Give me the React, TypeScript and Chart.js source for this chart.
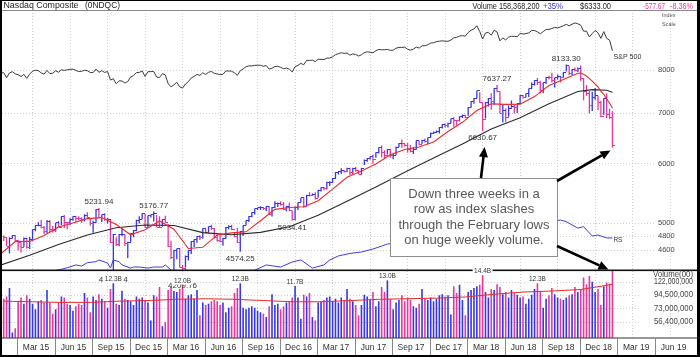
import React, { useEffect, useRef } from 'react';
import { Chart, registerables } from 'chart.js';

Chart.register(...registerables);

// ===== DATA: weekly bars, week 0 = Fri 5 Dec 2014 ... week 211 = Fri 21 Dec 2018 =====
const PREV_CLOSE = 4792;

const CLOSE = [
  // Dec 2014
  4780, 4653, 4765, 4807,
  // 2015
  4727, 4704, 4634, 4757, 4635, 4744, 4893, 4955, 4964, 4927,
  4871, 5026, 4891, 4886, 4996, 4932, 5092, 5005, 5003, 5048,
  5090, 5070, 5069, 5052, 5117, 5080, 4992, 4997, 5210, 5089,
  5128, 5044, 5048, 4706, 4828, 4683, 4822, 4827, 4687, 4707,
  4830, 4887, 5032, 5054, 5147, 4927, 5105, 5127, 5142, 4933,
  4923, 5048, 5007,
  // 2016
  4644, 4488, 4591, 4614, 4363, 4338, 4504, 4590, 4717, 4748,
  4796, 4774, 4915, 4851, 4938, 4906, 4775, 4737, 4718, 4770,
  4933, 4943, 4895, 4800, 4708, 4863, 4957, 5029, 5100, 5162,
  5221, 5233, 5238, 5219, 5250, 5126, 5245, 5306, 5312, 5292,
  5214, 5257, 5190, 5046, 5237, 5321, 5398, 5255, 5444, 5437,
  5462, 5383,
  // 2017
  5521, 5574, 5555, 5660, 5667, 5734, 5838, 5845, 5870, 5861,
  5901, 5828, 5912, 5878, 5805, 5910, 6047, 6100, 6121, 6083,
  6210, 6305, 6208, 6151, 6265, 6140, 6153, 6312, 6387, 6374,
  6351, 6256, 6216, 6265, 6435, 6360, 6448, 6426, 6496, 6590,
  6606, 6629, 6701, 6764, 6751, 6783, 6890, 6848, 6840, 6937,
  6960, 6903,
  // 2018
  7136, 7261, 7336, 7505, 7241, 6874, 7239, 7337, 7257, 7560,
  7481, 6993, 7063, 6915, 7107, 7146, 7120, 7209, 7403, 7354,
  7434, 7554, 7646, 7746, 7692, 7510, 7688, 7826, 7820, 7737,
  7812, 7839, 7816, 7945, 8110, 7903, 8010, 7987, 8046, 7788,
  7497, 7449, 7167, 7357, 7407, 7248, 6939, 7331, 6969, 6910.67,
  6333.0,
];

const HIGH = [
  4810, 4780, 4780, 4814,
  4814, 4744, 4707, 4778, 4766, 4787, 4900, 4956, 5009, 5042,
  4951, 5042, 5044, 4949, 4999, 5028, 5100, 5120, 5015, 5070,
  5101, 5110, 5100, 5085, 5133, 5164, 5075, 5030, 5214, 5231.94,
  5130, 5150, 5073, 5060, 4830, 4780, 4830, 4917, 4815, 4715,
  4840, 4890, 5045, 5100, 5150, 5140, 5110, 5130, 5176.77, 5120,
  5100, 5050, 5110,
  4980, 4730, 4600, 4620, 4620, 4390, 4520, 4601, 4720, 4750,
  4800, 4810, 4915, 4905, 4945, 4970, 4920, 4825, 4815, 4775,
  4935, 4960, 4970, 4860, 4920, 4870, 4960, 5035, 5105, 5163,
  5225, 5238, 5260, 5250, 5255, 5260, 5250, 5342, 5320, 5343,
  5330, 5270, 5320, 5190, 5255, 5325, 5400, 5400, 5450, 5490,
  5470, 5490,
  5536, 5575, 5580, 5670, 5680, 5740, 5840, 5850, 5912, 5880,
  5920, 5920, 5920, 5935, 5880, 5920, 6075, 6101, 6130, 6170,
  6211, 6306, 6341, 6250, 6275, 6280, 6180, 6320, 6390, 6460,
  6380, 6390, 6350, 6310, 6440, 6440, 6455, 6480, 6500, 6600,
  6620, 6640, 6710, 6770, 6790, 6800, 6890, 6915, 6850, 6940,
  6975, 6970,
  7140, 7265, 7340, 7506, 7470, 7230, 7245, 7340, 7450, 7570,
  7637.27, 7490, 7200, 7110, 7170, 7285, 7190, 7210, 7410, 7410,
  7440, 7560, 7700, 7760, 7806, 7740, 7700, 7830, 7860, 7933,
  7820, 7890, 7840, 7950, 8133.3, 8100, 8020, 8060, 8060, 8110,
  7800, 7640, 7500, 7480, 7570, 7390, 7280, 7340, 7440, 7100,
  7050,
];

const LOW = [
  4727, 4652, 4547, 4765,
  4721, 4592, 4563, 4640, 4620, 4612, 4725, 4870, 4946, 4917,
  4829, 4845, 4862, 4853, 4865, 4927, 4960, 4920, 4900, 4960,
  5030, 5015, 5040, 4999, 5020, 5070, 4952, 4850, 5000, 5080,
  5010, 5030, 4990, 4706, 4292.14, 4653, 4650, 4800, 4655, 4487,
  4715, 4780, 4870, 4990, 5055, 4925, 4930, 5080, 5020, 4930,
  4920, 4940, 5000,
  4640, 4471, 4313, 4470, 4355, 4209.76, 4356, 4450, 4540, 4640,
  4700, 4740, 4760, 4840, 4840, 4890, 4765, 4715, 4710, 4657,
  4760, 4900, 4890, 4780, 4700, 4574.25, 4800, 4960, 5010, 5085,
  5130, 5200, 5200, 5200, 5185, 5125, 5095, 5230, 5250, 5270,
  5200, 5180, 5180, 5034.41, 5040, 5200, 5330, 5235, 5260, 5420,
  5430, 5370,
  5400, 5505, 5525, 5540, 5600, 5660, 5740, 5800, 5810, 5830,
  5840, 5790, 5810, 5850, 5800, 5790, 5970, 6030, 6075, 5995,
  6105, 6185, 6110, 6090, 6170, 6105, 6080, 6160, 6310, 6300,
  6320, 6200, 6210, 6180, 6260, 6350, 6370, 6400, 6370, 6500,
  6570, 6590, 6580, 6680, 6700, 6700, 6790, 6720, 6750, 6830,
  6900, 6900,
  6950, 7120, 7210, 7340, 7230, 6630.67, 6890, 7150, 7080, 7190,
  7470, 6990, 6805, 6810, 6930, 7120, 7000, 7010, 7200, 7330,
  7350, 7360, 7560, 7630, 7640, 7440, 7450, 7670, 7770, 7700,
  7580, 7770, 7700, 7810, 7960, 7870, 7880, 7960, 7950, 7740,
  7290, 7390, 7000, 7050, 7300, 7070, 6920, 6970, 6900, 6880,
  6304,
];

// weekly volume in millions of "hundreds of shares" (Volume(00))
const VOLUME = [
  88, 92, 108, 46, 50, 84, 90, 80, 94, 88,
  80, 72, 84, 86, 82, 104, 82, 66, 72, 82,
  92, 90, 80, 78, 70, 76, 80, 78, 98, 90,
  68, 92, 86, 96, 88, 84, 74, 106, 123, 80,
  78, 102, 88, 86, 84, 78, 92, 88, 90, 86,
  82, 58, 94, 92, 110, 52, 56, 104, 110, 102,
  100, 106, 120, 88, 94, 96, 88, 104, 64, 82,
  78, 80, 84, 86, 84, 78, 82, 68, 74, 76,
  98, 108, 123, 74, 72, 74, 76, 74, 70, 68,
  66, 62, 76, 96, 78, 80, 72, 76, 82, 84,
  90, 117, 90, 60, 95, 92, 98, 62, 58, 82,
  84, 86, 90, 92, 84, 88, 82, 90, 86, 106,
  88, 84, 78, 64, 78, 95, 92, 86, 100, 76,
  84, 110, 100, 130, 88, 72, 82, 86, 94, 84,
  90, 86, 76, 74, 80, 106, 88, 86, 90, 84,
  88, 94, 96, 92, 94, 65, 112, 98, 115, 86,
  64, 100, 104, 108, 112, 115, 144, 100, 90, 106,
  104, 116, 110, 96, 100, 90, 104, 98, 95, 90,
  92, 80, 88, 95, 106, 123, 100, 74, 88, 94,
  108, 96, 90, 88, 86, 90, 94, 96, 110, 100,
  106, 132, 116, 136, 122, 100, 106, 78, 112, 120,
  118, 158.3682,
];

// [week, value]
const VOLUME_MA = [
  [0, 84], [10, 83], [20, 82], [30, 82], [40, 84], [50, 85], [60, 87], [70, 88],
  [80, 87], [90, 85], [100, 83], [110, 83], [120, 85], [130, 87], [140, 88],
  [150, 89], [160, 91], [170, 96], [180, 100], [190, 102], [200, 105], [211, 116],
];

const SP500_PREV = 2068;
const SP500 = [
  2075, 2003, 2071, 2089, 2058, 2045, 2019, 2051, 1995, 2055,
  2097, 2110, 2105, 2071, 2053, 2108, 2061, 2067, 2102, 2081,
  2117, 2108, 2116, 2123, 2126, 2107, 2092, 2094, 2110, 2102,
  2077, 2077, 2127, 2080, 2104, 2078, 2092, 1971, 1989, 1921,
  1961, 1958, 1931, 1951, 2015, 2033, 2075, 2079, 2099, 2023,
  2089, 2090, 2092, 2012, 2006, 2061, 2044, 1922, 1880, 1907,
  1940, 1880, 1865, 1918, 1948, 1999, 2022, 2050, 2036, 2073,
  2048, 2081, 2092, 2065, 2057, 2047, 2052, 2099, 2099, 2096,
  2071, 2037, 2103, 2130, 2162, 2175, 2174, 2183, 2184, 2184,
  2169, 2180, 2128, 2139, 2165, 2168, 2153, 2133, 2141, 2126,
  2085, 2164, 2182, 2213, 2192, 2260, 2258, 2264, 2239, 2277,
  2275, 2271, 2295, 2297, 2316, 2351, 2367, 2383, 2372, 2378,
  2344, 2363, 2355, 2329, 2349, 2384, 2399, 2391, 2382, 2416,
  2439, 2432, 2433, 2438, 2423, 2425, 2459, 2473, 2472, 2477,
  2441, 2426, 2444, 2477, 2461, 2500, 2502, 2519, 2549, 2553,
  2575, 2581, 2588, 2582, 2579, 2602, 2642, 2652, 2675, 2683,
  2674, 2743, 2786, 2810, 2873, 2762, 2620, 2732, 2747, 2691,
  2786, 2752, 2588, 2641, 2604, 2656, 2670, 2670, 2663, 2728,
  2713, 2721, 2735, 2779, 2780, 2755, 2718, 2760, 2801, 2802,
  2819, 2840, 2833, 2850, 2875, 2902, 2872, 2905, 2930, 2914,
  2886, 2767, 2768, 2659, 2723, 2781, 2736, 2633, 2760, 2633,
  2600, 2417,
];

// relative strength line [week, value]
const RS_LINE = [
  [0, 2.25], [10, 2.3], [16, 2.33], [20, 2.35], [22, 2.364], [25, 2.388], [27, 2.379],
  [29, 2.408], [32, 2.417], [33, 2.432], [36, 2.405], [37, 2.361], [38, 2.432], [40, 2.417],
  [41, 2.388], [44, 2.361], [45, 2.37], [47, 2.37], [50, 2.361], [52, 2.37], [55, 2.37],
  [56, 2.388], [58, 2.344], [60, 2.3], [62, 2.27], [63, 2.35], [65, 2.3], [72, 2.31],
  [78, 2.3], [84, 2.32], [86, 2.33], [88, 2.353], [91, 2.388], [96, 2.37], [100, 2.414],
  [103, 2.432], [107, 2.361], [111, 2.388], [113, 2.432], [116, 2.467], [120, 2.489],
  [124, 2.502], [128, 2.528], [131, 2.554], [133, 2.572], [140, 2.59], [150, 2.62],
  [160, 2.65], [165, 2.68], [170, 2.7], [180, 2.73], [187, 2.76], [193, 2.782],
  [195, 2.768], [197, 2.739], [199, 2.712], [201, 2.724], [204, 2.642], [206, 2.651],
  [209, 2.625], [211, 2.625],
];

// 10-week moving average [week, value]
const MA10 = [
  [-1, 4546], [4, 4719], [9, 4721], [14, 4808], [19, 4934], [24, 4997], [29, 5063],
  [34, 5080], [39, 4973], [44, 4818], [49, 4892], [54, 5028], [59, 4901], [64, 4619],
  [69, 4636], [74, 4816], [79, 4847], [84, 4862], [89, 5031], [94, 5210], [99, 5241],
  [104, 5252], [109, 5350], [114, 5544], [119, 5751], [124, 5865], [129, 5989],
  [134, 6163], [139, 6265], [144, 6311], [149, 6410], [154, 6619], [159, 6810],
  [164, 7062], [169, 7209], [174, 7196], [179, 7200], [184, 7372], [189, 7627],
  [194, 7769], [199, 7921], [200, 7926], [201, 7894], [202, 7855], [203, 7790],
  [204, 7731], [205, 7661], [206, 7596], [207, 7489], [208, 7423], [209, 7315],
  [210, 7228], [211, 7111],
];

// 40-week moving average [week, value]
const MA40 = [
  [-1, 4389], [9, 4524], [19, 4675], [29, 4816], [39, 4923], [49, 4966], [59, 4957],
  [69, 4850], [79, 4819], [89, 4854], [99, 4939], [109, 5117], [119, 5343], [129, 5583],
  [139, 5839], [149, 6104], [159, 6369], [169, 6674], [179, 6907], [189, 7212],
  [199, 7489], [204, 7530], [209, 7516], [211, 7471],
];

const X_LABELS = [
  'Mar 15', 'Jun 15', 'Sep 15', 'Dec 15', 'Mar 16', 'Jun 16', 'Sep 16', 'Dec 16', 'Mar 17',
  'Jun 17', 'Sep 17', 'Dec 17', 'Mar 18', 'Jun 18', 'Sep 18', 'Dec 18', 'Mar 19', 'Jun 19',
];
const PRICE_TICKS = [8000, 7000, 6000, 5000, 4800, 4600];
const VOLUME_TICKS = [122, 94.5, 73, 56.4];
const HIGH_NOTES = [33, 52, 171, 195];
const LOW_NOTES = [38, 62, 82, 100, 166];
const VOLUME_NOTES = [38, 62, 82, 101, 133, 166, 185];
const NOTE_LINES = [
  'Down three weeks in a',
  'row as index slashes',
  'through the February lows',
  'on huge weekly volume.',
];
const TITLE = 'Nasdaq Composite';
const SYMBOL = '(0NDQC)';
const VOLUME_CHANGE = '+35%';

// ===== styling / layout =====
const UP = '#3636e6';
const DOWN = '#e4389c';
const RED = '#e82a2a';
const FONT_FAMILY = "'Liberation Sans', Arial, Helvetica, sans-serif";
const f = (px: number) => `${px}px ${FONT_FAMILY}`;
const X_MIN = -0.59;
const X_MAX = 240.31;
const SEP0 = 4.71;
const GRID0 = 9.9;
const QUARTER = 13;
const PANEL_SPLIT = 270.5;

const IS_UP = CLOSE.map((c, i) => c >= (i ? CLOSE[i - 1] : PREV_CLOSE));
const BAR_COLORS = IS_UP.map((u) => (u ? UP : DOWN));

const fmtInt = (v: number) => Math.round(v).toLocaleString('en-US');

function arrow(ctx: any, x1: number, y1: number, x2: number, y2: number) {
  const ang = Math.atan2(y2 - y1, x2 - x1);
  const hl = 10;
  const hw = 4.5;
  const bx = x2 - hl * Math.cos(ang);
  const by = y2 - hl * Math.sin(ang);
  ctx.strokeStyle = '#000';
  ctx.lineWidth = 2.6;
  ctx.lineCap = 'butt';
  ctx.beginPath();
  ctx.moveTo(x1, y1);
  ctx.lineTo(bx, by);
  ctx.stroke();
  ctx.fillStyle = '#000';
  ctx.beginPath();
  ctx.moveTo(x2, y2);
  ctx.lineTo(bx + hw * Math.sin(ang), by - hw * Math.cos(ang));
  ctx.lineTo(bx - hw * Math.sin(ang), by + hw * Math.cos(ang));
  ctx.closePath();
  ctx.fill();
}

const decor = {
  id: 'decor',
  beforeDraw(chart: any) {
    const { ctx } = chart;
    ctx.save();
    ctx.fillStyle = '#fff';
    ctx.fillRect(0, 0, chart.width, chart.height);
    ctx.restore();
  },
  beforeDatasetsDraw(chart: any) {
    const { ctx, chartArea: a, scales } = chart;
    const xs = scales.x;
    ctx.save();
    ctx.strokeStyle = '#cfcfcf';
    ctx.lineWidth = 1;
    ctx.setLineDash([1, 2]);
    for (let k = 0; k < 18; k++) {
      const px = Math.round(xs.getPixelForValue(GRID0 + QUARTER * k)) + 0.5;
      if (px > a.right) break;
      ctx.beginPath();
      ctx.moveTo(px, a.top);
      ctx.lineTo(px, a.bottom);
      ctx.stroke();
    }
    for (const v of PRICE_TICKS) {
      const py = Math.round(scales.yP.getPixelForValue(v)) + 0.5;
      ctx.beginPath();
      ctx.moveTo(a.left, py);
      ctx.lineTo(655, py);
      ctx.stroke();
    }
    for (const v of VOLUME_TICKS) {
      const py = Math.round(scales.yV.getPixelForValue(v)) + 0.5;
      ctx.beginPath();
      ctx.moveTo(a.left, py);
      ctx.lineTo(640, py);
      ctx.stroke();
    }
    ctx.restore();
    ctx.imageSmoothingEnabled = false;
  },
  afterDatasetsDraw(chart: any) {
    chart.ctx.imageSmoothingEnabled = true;
  },
  afterDraw(chart: any) {
    const { ctx, scales } = chart;
    const xs = scales.x;
    const yP = scales.yP;
    const yV = scales.yV;
    const X = (i: number) => xs.getPixelForValue(i);
    ctx.save();
    ctx.textBaseline = 'middle';

    // panel separators
    ctx.fillStyle = '#8a8a8a';
    ctx.fillRect(0, 10, 700, 1);
    ctx.fillStyle = '#111';
    ctx.fillRect(0, PANEL_SPLIT - 1, 697, 1.6);
    ctx.fillStyle = '#333';
    ctx.fillRect(0, 337.5, 697, 1);

    // x axis cells
    ctx.fillStyle = '#888';
    for (let k = 0; k < X_LABELS.length; k++) {
      const sx = Math.round(X(SEP0 + QUARTER * k));
      ctx.fillRect(sx, 338, 1, 17);
    }
    ctx.fillStyle = '#333';
    ctx.font = f(8.5);
    ctx.textAlign = 'center';
    X_LABELS.forEach((t, k) => {
      const cx = (X(SEP0 + QUARTER * k) + X(SEP0 + QUARTER * (k + 1))) / 2;
      ctx.fillText(t, cx, 347.5);
    });

    // right price axis
    ctx.fillStyle = '#444';
    ctx.font = f(7.5);
    ctx.textAlign = 'left';
    for (const v of PRICE_TICKS) ctx.fillText(String(v), 658, yP.getPixelForValue(v));

    // right volume axis
    ctx.font = f(9);
    ctx.textAlign = 'right';
    for (const v of VOLUME_TICKS) ctx.fillText(fmtInt(v * 1e6), 693, yV.getPixelForValue(v), 39);
    ctx.textAlign = 'center';
    ctx.fillText('Volume(00)', 673, 274.5, 40);

    // Index Scale
    ctx.font = f(5.5);
    ctx.fillStyle = '#555';
    ctx.textAlign = 'left';
    ctx.fillText('Index', 662, 15.5);
    ctx.fillText('Scale', 662, 24);

    // header
    const last = CLOSE.length - 1;
    const chg = CLOSE[last] - CLOSE[last - 1];
    const pct = (CLOSE[last] / CLOSE[last - 1] - 1) * 100;
    ctx.font = f(9);
    ctx.fillStyle = '#222';
    ctx.textAlign = 'left';
    ctx.fillText(TITLE, 3.5, 6, 75);
    ctx.fillText(SYMBOL, 85, 6, 35);
    ctx.fillText('Volume ' + fmtInt(VOLUME[last] * 1e6), 472.5, 6.5, 67);
    ctx.fillStyle = UP;
    ctx.fillText(VOLUME_CHANGE, 543, 6.5, 20);
    ctx.fillStyle = '#222';
    ctx.fillText('$' + CLOSE[last].toFixed(2), 580, 6.5, 31);
    ctx.fillStyle = DOWN;
    ctx.fillText(chg.toFixed(2), 643, 6.5, 22);
    ctx.fillText(pct.toFixed(2) + '%', 670, 6.5, 23);

    // price notes
    ctx.fillStyle = '#333';
    ctx.font = f(8);
    ctx.textAlign = 'center';
    for (const i of HIGH_NOTES) ctx.fillText(HIGH[i].toFixed(2), X(i), yP.getPixelForValue(HIGH[i]) - 6);
    for (const i of LOW_NOTES) ctx.fillText(LOW[i].toFixed(2), X(i), yP.getPixelForValue(LOW[i]) + 7);

    // volume notes
    ctx.font = f(7);
    for (const i of VOLUME_NOTES) {
      const t = (VOLUME[i] / 10).toFixed(1) + 'B';
      const px = X(i);
      const py = yV.getPixelForValue(VOLUME[i]) - 2;
      const w = Math.min(ctx.measureText(t).width, 17);
      ctx.fillStyle = '#fff';
      ctx.fillRect(px - w / 2 - 1.5, py - 4, w + 3, 8);
      ctx.fillStyle = '#333';
      ctx.fillText(t, px, py, 17);
    }

    // series labels
    ctx.textAlign = 'left';
    ctx.fillStyle = '#333';
    ctx.font = f(7.5);
    ctx.fillText('S&P 500', X(last) + 1, scales.yS.getPixelForValue(SP500[last]) + 6, 28);
    ctx.font = f(6.5);
    ctx.fillText('RS', X(last) + 1, scales.yR.getPixelForValue(RS_LINE[RS_LINE.length - 1][1]) + 2, 9);

    // annotation box
    ctx.fillStyle = '#fff';
    ctx.fillRect(390, 178, 167, 78);
    ctx.strokeStyle = '#8f8f8f';
    ctx.lineWidth = 1;
    ctx.strokeRect(390.5, 178.5, 167, 78);
    ctx.fillStyle = '#585858';
    ctx.font = f(13);
    ctx.textAlign = 'center';
    NOTE_LINES.forEach((t, k) => ctx.fillText(t, 474, 194 + k * 15.6));

    // arrows
    arrow(ctx, 481, 178, X(166) + 2, yP.getPixelForValue(LOW[166]) + 16);
    arrow(ctx, 557, 181, X(last) - 2, yP.getPixelForValue(LOW[last]) + 3);
    arrow(ctx, 557, 246, X(last) - 4, PANEL_SPLIT - 1);

    // frame
    ctx.fillStyle = '#000';
    ctx.fillRect(0, 0, 2, 357);
    ctx.fillRect(697, 0, 3, 357);
    ctx.fillRect(0, 0, 700, 1);
    ctx.fillRect(0, 355, 700, 2);
    ctx.restore();
  },
};

export default function App() {
  const ref = useRef<HTMLCanvasElement | null>(null);
  useEffect(() => {
    document.body.style.margin = '0';
    const canvas = ref.current;
    if (!canvas) return;
    const mkTick = (color: string) => {
      const c = document.createElement('canvas');
      c.width = 6;
      c.height = 1;
      const g = c.getContext('2d') as CanvasRenderingContext2D;
      g.fillStyle = color;
      g.fillRect(3, 0, 3, 1);
      return c;
    };
    const upTick = mkTick(UP);
    const downTick = mkTick(DOWN);
    const priceClip = { left: 0, top: 0, right: 0, bottom: -(338 - PANEL_SPLIT) };
    const volClip = { left: 0, top: -(PANEL_SPLIT - 10), right: 0, bottom: 0 };
    const fix = (min: number, max: number) => (s: any) => {
      s.min = min;
      s.max = max;
    };

    const chart = new Chart(canvas, {
      type: 'bar',
      data: {
        datasets: [
          {
            type: 'line', label: 'Volume MA', yAxisID: 'yV',
            data: VOLUME_MA.map(([x, y]) => ({ x, y })),
            borderColor: RED, borderWidth: 1, pointRadius: 0, clip: volClip, order: 0,
          },
          {
            type: 'line', label: '10-week MA', yAxisID: 'yP',
            data: MA10.map(([x, y]) => ({ x, y })),
            borderColor: RED, borderWidth: 1.1, pointRadius: 0, clip: priceClip, order: 1,
          },
          {
            type: 'line', label: '40-week MA', yAxisID: 'yP',
            data: MA40.map(([x, y]) => ({ x, y })),
            borderColor: '#2a2a2a', borderWidth: 1.1, pointRadius: 0, clip: priceClip, order: 1,
          },
          {
            type: 'line', label: 'Close', yAxisID: 'yP',
            data: CLOSE.map((y, x) => ({ x, y })),
            showLine: false, pointRadius: 1, pointHoverRadius: 1,
            pointStyle: (c: any) => (IS_UP[c.dataIndex] ? upTick : downTick),
            clip: priceClip, order: 2,
          },
          {
            type: 'bar', label: 'Range', yAxisID: 'yP',
            data: CLOSE.map((_, i) => ({ x: i, y: [LOW[i], HIGH[i]] })),
            backgroundColor: BAR_COLORS, barThickness: 1.3, grouped: false, inflateAmount: 0,
            clip: priceClip, order: 2,
          },
          {
            type: 'bar', label: 'Volume', yAxisID: 'yV',
            data: VOLUME.map((v, i) => ({ x: i, y: [30, v] })),
            backgroundColor: BAR_COLORS, barThickness: 1.6, grouped: false, inflateAmount: 0,
            clip: volClip, order: 3,
          },
          {
            type: 'line', label: 'S&P 500', yAxisID: 'yS',
            data: [{ x: -1, y: SP500_PREV }, ...SP500.map((y, x) => ({ x, y }))],
            borderColor: '#3c3c3c', borderWidth: 1, pointRadius: 0, order: 5,
          },
          {
            type: 'line', label: 'RS', yAxisID: 'yR',
            data: RS_LINE.map(([x, y]) => ({ x, y })),
            borderColor: '#3c3cec', borderWidth: 1, pointRadius: 0, clip: priceClip, order: 5,
          },
        ] as any,
      },
      options: {
        responsive: false,
        animation: false,
        devicePixelRatio: 1,
        events: [],
        layout: { padding: { left: 2, right: 3, top: 10, bottom: 19 } },
        plugins: { legend: { display: false }, tooltip: { enabled: false }, title: { display: false } },
        scales: {
          x: { type: 'linear', display: false, offset: false, grid: { offset: false }, bounds: 'data', min: X_MIN, max: X_MAX, afterDataLimits: fix(X_MIN, X_MAX) },
          yP: { type: 'logarithmic', display: false, bounds: 'data', min: 3507, max: 9622, afterDataLimits: fix(3507, 9622) },
          yS: { type: 'logarithmic', display: false, bounds: 'data', min: 328.7, max: 3206, afterDataLimits: fix(328.7, 3206) },
          yR: { type: 'linear', display: false, beginAtZero: false, bounds: 'data', min: 1.7474, max: 4.6246, afterDataLimits: fix(1.7474, 4.6246) },
          yV: { type: 'logarithmic', display: false, bounds: 'data', min: 41.41, max: 22448, afterDataLimits: fix(41.41, 22448) },
        } as any,
      },
      plugins: [decor as any],
    } as any);
    return () => chart.destroy();
  }, []);

  return (
    <div style={{ width: 700, height: 357, position: 'relative', background: '#fff', overflow: 'hidden' }}>
      <canvas ref={ref} width={700} height={357} style={{ display: 'block', width: 700, height: 357 }} />
    </div>
  );
}
